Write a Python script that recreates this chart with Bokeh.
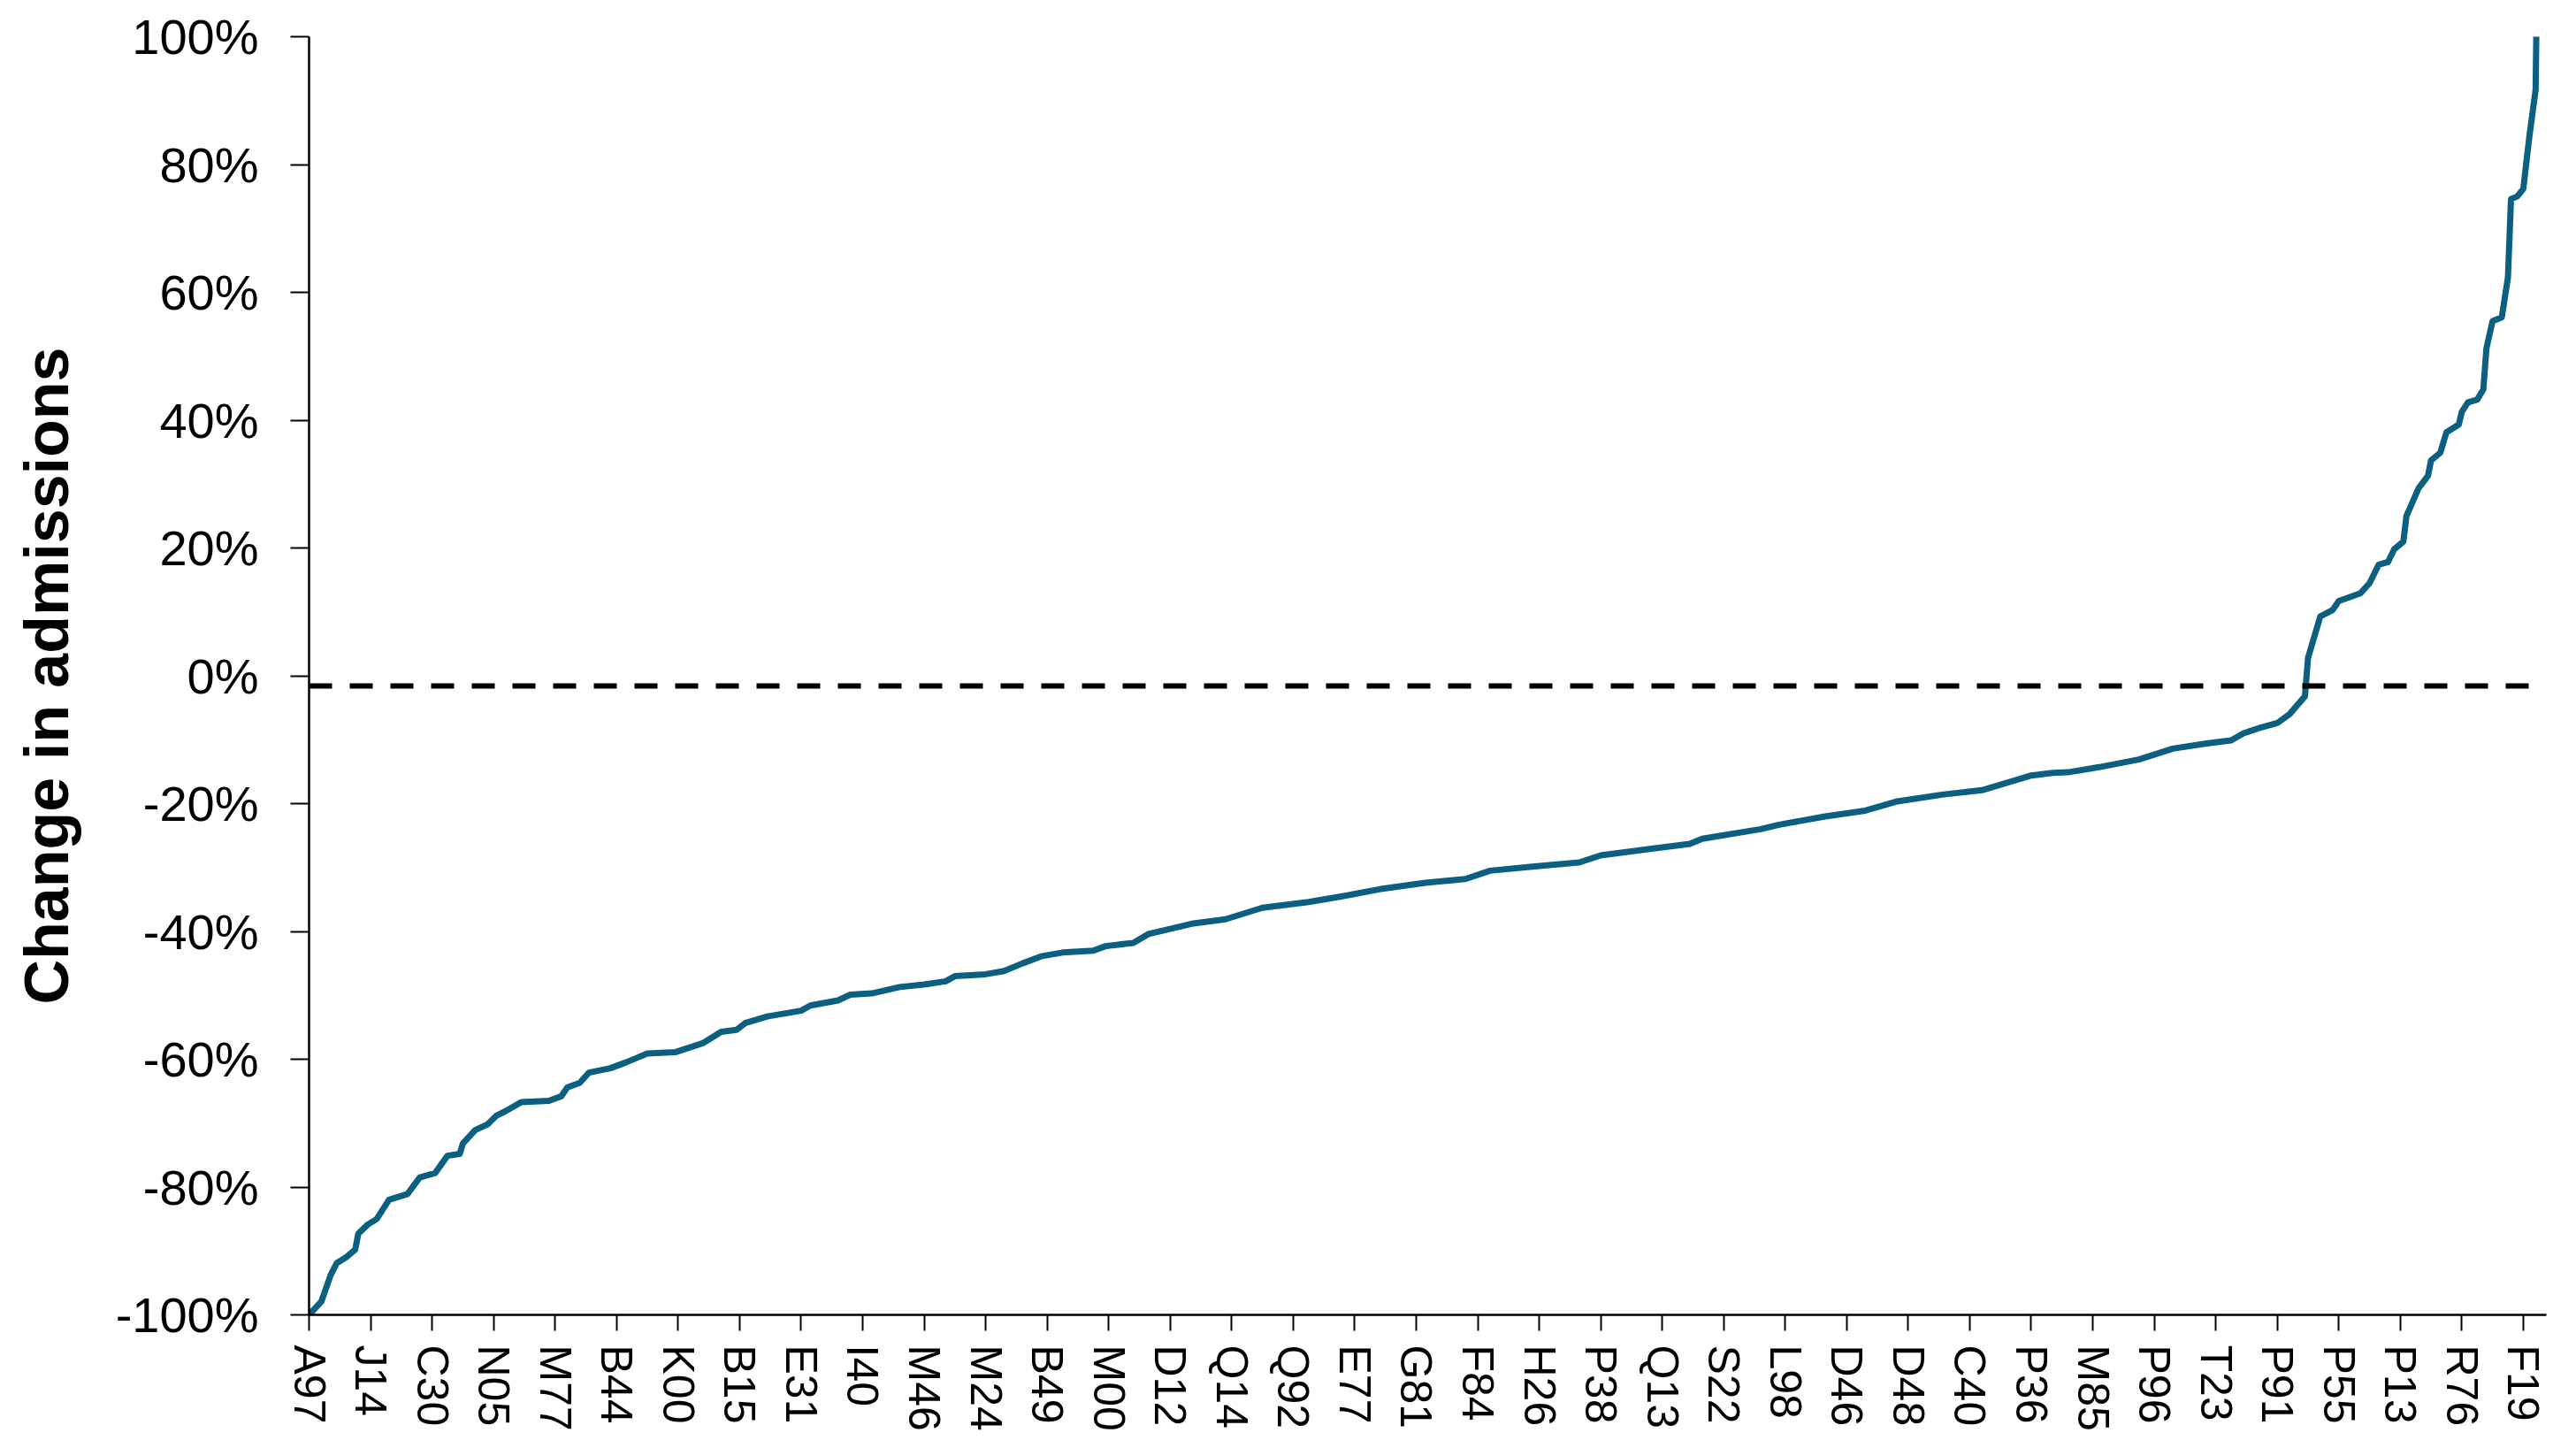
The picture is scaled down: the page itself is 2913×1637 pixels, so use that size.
from bokeh.plotting import figure
from bokeh.models import Range1d, FixedTicker, PrintfTickFormatter, Span
from bokeh.embed import file_html
from bokeh.resources import INLINE

# ---- data ----
# rank of the diagnosis code (0-based, sorted by change) and change in admissions (%)
code_rank = [0, 4, 7, 9, 12, 15, 16, 19, 22, 26, 32, 36, 41, 45, 49, 50, 54, 58, 61, 64,
             69, 78, 82, 84, 88, 91, 98, 103, 110, 119, 128, 134, 139, 142, 149, 160, 163,
             172, 176, 183, 192, 200, 207, 210, 220, 226, 232, 238, 245, 255, 259, 268,
             273, 287, 298, 310, 325, 336, 348, 363, 376, 384, 397, 413, 420, 436, 449,
             453, 472, 478, 493, 506, 516, 531, 544, 560, 567, 572, 582, 595, 606, 617,
             625, 629, 634, 640, 644, 649, 650, 654, 658, 660, 667, 670, 673, 676, 678,
             681, 682, 686, 689, 690, 693, 695, 699, 700, 702, 705, 707, 708, 710, 713,
             715, 716, 718, 720, 722, 724, 725]
change_pct = [-100.0, -97.9, -93.8, -91.9, -91.0, -89.8, -87.3, -85.9, -85.0, -82.0, -81.1,
              -78.5, -77.8, -75.1, -74.8, -73.2, -71.1, -70.2, -68.8, -68.1, -66.7, -66.5,
              -65.8, -64.4, -63.7, -62.1, -61.4, -60.5, -59.1, -58.9, -57.5, -55.7, -55.4,
              -54.3, -53.3, -52.4, -51.6, -50.8, -49.9, -49.7, -48.7, -48.3, -47.8, -47.0,
              -46.7, -46.2, -45.0, -43.9, -43.3, -43.0, -42.3, -41.8, -40.4, -38.8, -38.1,
              -36.3, -35.4, -34.5, -33.4, -32.4, -31.8, -30.5, -29.9, -29.2, -28.1, -27.1,
              -26.3, -25.5, -24.0, -23.3, -22.0, -21.1, -19.7, -18.6, -17.9, -15.6, -15.2,
              -15.1, -14.3, -13.1, -11.4, -10.6, -10.1, -9.0, -8.2, -7.4, -6.0, -3.2, 2.8,
              9.3, 10.3, 11.7, 12.9, 14.5, 17.4, 17.8, 19.8, 21.0, 25.0, 29.4, 31.3, 33.7,
              34.9, 38.1, 39.3, 41.3, 42.8, 43.2, 44.8, 51.2, 55.5, 56.1, 62.3, 74.6, 75.0,
              76.2, 84.5, 91.7, 130.0]

# labelled codes on the category axis (every 20th code)
tick_codes = ["A97", "J14", "C30", "N05", "M77", "B44", "K00", "B15", "E31", "I40",
              "M46", "M24", "B49", "M00", "D12", "Q14", "Q92", "E77", "G81", "F84",
              "H26", "P38", "Q13", "S22", "L98", "D46", "D48", "C40", "P36", "M85",
              "P96", "T23", "P91", "P55", "P13", "R76", "F19"]
tick_step = 20
overall_change = -1.6   # dashed reference line (%)
y_ticks = [-100, -80, -60, -40, -20, 0, 20, 40, 60, 80, 100]

tick_pos = [i * tick_step for i in range(len(tick_codes))]

FONT = "Liberation Sans"

p = figure(frame_width=2530, frame_height=1445,
           min_border_left=349, min_border_right=34, min_border_top=41, min_border_bottom=151,
           x_range=Range1d(0, 727.5), y_range=Range1d(-100, 100),
           output_backend="svg", toolbar_location=None,
           background_fill_color="white", border_fill_color="white")
p.outline_line_color = None
p.grid.visible = False

# y axis
p.yaxis.ticker = FixedTicker(ticks=y_ticks)
p.yaxis.formatter = PrintfTickFormatter(format="%d%%")
p.yaxis.axis_label = "Change in admissions"
p.yaxis.axis_label_text_font = FONT
p.yaxis.axis_label_text_font_style = "bold"
p.yaxis.axis_label_text_font_size = "70px"
p.yaxis.axis_label_text_color = "black"
p.yaxis.axis_label_standoff = 36
p.yaxis.major_label_text_font = FONT
p.yaxis.major_label_text_font_size = "56px"
p.yaxis.major_label_text_color = "black"
p.yaxis.major_label_standoff = 36
p.yaxis.major_tick_in = 0
p.yaxis.major_tick_out = 21
p.yaxis.minor_tick_line_color = None

# x axis
p.xaxis.ticker = FixedTicker(ticks=tick_pos)
p.xaxis.major_label_overrides = {pos: lab for pos, lab in zip(tick_pos, tick_codes)}
p.xaxis.major_label_orientation = "vertical"
p.xaxis.major_label_text_font = FONT
p.xaxis.major_label_text_font_size = "50px"
p.xaxis.major_label_text_color = "black"
p.xaxis.major_label_standoff = 16
p.xaxis.major_tick_in = 0
p.xaxis.major_tick_out = 18
p.xaxis.minor_tick_line_color = None

for ax in (p.xaxis, p.yaxis):
    ax.axis_line_color = "black"
    ax.axis_line_width = 2.5
    ax.major_tick_line_color = "black"
    ax.major_tick_line_width = 2

p.add_layout(Span(location=overall_change, dimension="width", line_color="black",
                  line_width=6, line_dash="26 20"))

p.line(x=code_rank, y=change_pct, line_color="#0B5F80", line_width=7, line_join="round")

open("out.html", "w").write(file_html(p, INLINE))
